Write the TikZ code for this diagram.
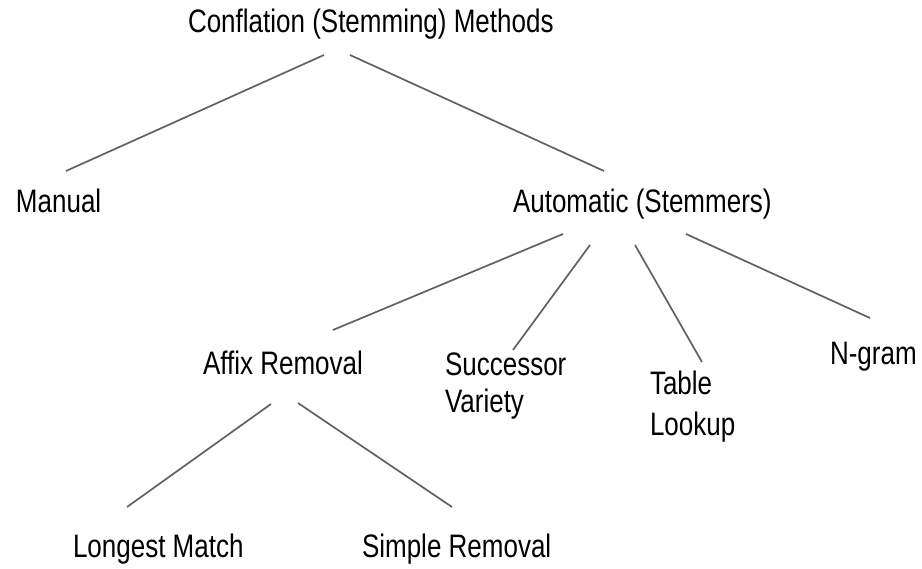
\documentclass[tikz,border=0pt]{standalone}
\usepackage{fontspec}
\setmainfont{Liberation Sans}[FakeStretch=0.80]
\begin{document}
\begin{tikzpicture}[x=1pt,y=-1pt,
  label/.style={anchor=base west,inner sep=0pt,outer sep=0pt,align=left,
    font=\fontsize{32.5}{37}\selectfont},
  branch/.style={draw=black!62,line width=1.7pt}]
\useasboundingbox (0,0) rectangle (922,569);

% category labels (left edge, baseline of the last line)
\node[label] (conf)    at (188,33)  {Conflation (Stemming) Methods};
\node[label] (manual)  at (16,213)  {Manual};
\node[label] (auto)    at (513,213) {Automatic (Stemmers)};
\node[label] (affix)   at (203,375) {Affix Removal};
\node[label] (succ)    at (445,413) {Successor\\Variety};
\node[label,font=\fontsize{32.5}{41}\selectfont] (table) at (650,436) {Table\\Lookup};
\node[label] (ngram)   at (830,365) {N-gram};
\node[label] (longest) at (73,557)  {Longest Match};
\node[label] (simple)  at (362,557) {Simple Removal};

% tree branches
\draw[branch] ([shift={(136,22)}]conf.base west)  -- ([shift={(50,-42)}]manual.base west);
\draw[branch] ([shift={(162,22)}]conf.base west)  -- ([shift={(91,-42)}]auto.base west);
\draw[branch] ([shift={(50,21)}]auto.base west)   -- ([shift={(130,-45)}]affix.base west);
\draw[branch] ([shift={(77,32)}]auto.base west)   -- ([shift={(68,-63)}]succ.base west);
\draw[branch] ([shift={(122,32)}]auto.base west)  -- ([shift={(52,-74)}]table.base west);
\draw[branch] ([shift={(173,21)}]auto.base west)  -- ([shift={(40,-47)}]ngram.base west);
\draw[branch] ([shift={(68,29)}]affix.base west)  -- ([shift={(54,-50)}]longest.base west);
\draw[branch] ([shift={(95,28)}]affix.base west)  -- ([shift={(90,-50)}]simple.base west);
\end{tikzpicture}
\end{document}
